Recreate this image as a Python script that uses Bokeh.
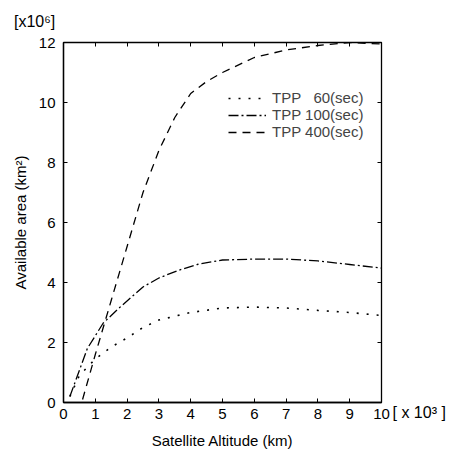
from bokeh.plotting import figure
from bokeh.models import LinearAxis, Range1d, Legend, LegendItem, FixedTicker
from bokeh.embed import file_html
from bokeh.resources import INLINE

# Satellite altitude (x 10^3 km) and available area (x 10^6 km^2)
x_60 = [0.2, 0.5, 1.0, 1.5, 2.0, 2.5, 3.0, 4.0, 5.0, 6.0, 7.0, 8.0, 9.0, 10.0]
y_60 = [0.2, 0.9, 1.45, 1.85, 2.15, 2.5, 2.75, 3.0, 3.15, 3.18, 3.15, 3.07, 3.0, 2.9]

x_100 = [0.2, 0.75, 1.25, 1.8, 2.5, 3.0, 3.6, 4.2, 5.0, 6.0, 7.0, 8.0, 9.0, 10.0]
y_100 = [0.2, 1.8, 2.65, 3.2, 3.85, 4.15, 4.4, 4.6, 4.75, 4.78, 4.78, 4.72, 4.6, 4.48]

x_400 = [0.6, 1.0, 1.5, 2.0, 2.5, 3.0, 3.5, 4.0, 4.5, 5.0, 6.0, 7.0, 8.0, 9.0, 10.0]
y_400 = [0.1, 1.6, 3.4, 5.2, 7.0, 8.4, 9.5, 10.3, 10.7, 11.0, 11.5, 11.75, 11.9, 12.0, 11.95]

labels = ["TPP   60(sec)", "TPP 100(sec)", "TPP 400(sec)"]
x_ticks = [0, 1, 2, 3, 4, 5, 6, 7, 8, 9, 10]
y_ticks = [0, 2, 4, 6, 8, 10, 12]
y_unit = "[x10\u2076]"
x_unit = "[ x 10\u00b3 ]"

FONT = "Liberation Sans"
NB = "\u00a0"

p = figure(width=463, height=459, output_backend="svg", toolbar_location=None,
           x_range=Range1d(0, 10), y_range=Range1d(0, 12),
           min_border_left=63, min_border_right=82, min_border_top=42, min_border_bottom=57)
p.grid.visible = False
p.outline_line_color = "black"
p.outline_line_width = 1.3

r1 = p.line(x_60, y_60, line_color="black", line_width=1.6, line_dash="2 8")
r2 = p.line(x_100, y_100, line_color="black", line_width=1.3, line_dash="10 3 2 3")
r3 = p.line(x_400, y_400, line_color="black", line_width=1.3, line_dash="8 6")

for ax in (p.xaxis[0], p.yaxis[0]):
    ax.major_tick_in = 4
    ax.major_tick_out = 0
    ax.minor_tick_in = 0
    ax.minor_tick_out = 0
    ax.axis_line_width = 1.3
    ax.major_label_text_font = FONT
    ax.major_label_text_font_size = "15px"
    ax.major_label_text_color = "black"
    ax.axis_label_text_font = FONT
    ax.axis_label_text_font_size = "15px"
    ax.axis_label_text_font_style = "normal"
    ax.axis_label_text_color = "black"

p.xaxis[0].ticker = FixedTicker(ticks=x_ticks)
p.yaxis[0].ticker = FixedTicker(ticks=y_ticks)
p.xaxis[0].axis_label = "Satellite Altitude (km)"
p.yaxis[0].axis_label = "Available area (km\u00b2)"
p.xaxis[0].major_label_standoff = 6
p.yaxis[0].major_label_standoff = 8
p.xaxis[0].axis_label_standoff = 10
p.yaxis[0].axis_label_standoff = 7

top_over = {t: "" for t in x_ticks}
top_over[0] = y_unit + NB * 13
right_over = {t: "" for t in y_ticks}
right_over[0] = NB + "\n" + x_unit

top = LinearAxis(ticker=FixedTicker(ticks=x_ticks), major_tick_in=4, major_tick_out=0,
                 minor_tick_in=0, minor_tick_out=0,
                 major_label_overrides=top_over,
                 major_label_standoff=13, major_label_text_font=FONT,
                 major_label_text_font_size="16px", major_label_text_color="black",
                 axis_line_color=None)
right = LinearAxis(ticker=FixedTicker(ticks=y_ticks), major_tick_in=4, major_tick_out=0,
                   minor_tick_in=0, minor_tick_out=0,
                   major_label_overrides=right_over,
                   major_label_standoff=11, major_label_text_font=FONT,
                   major_label_text_font_size="16px", major_label_text_color="black",
                   axis_line_color=None)
p.add_layout(top, "above")
p.add_layout(right, "right")

legend = Legend(items=[LegendItem(label=labels[0], renderers=[r1]),
                       LegendItem(label=labels[1], renderers=[r2]),
                       LegendItem(label=labels[2], renderers=[r3])],
                location=(165, 262), border_line_color=None, background_fill_alpha=0,
                padding=0, margin=0, spacing=0, label_height=16, glyph_height=16,
                glyph_width=38, label_standoff=6,
                label_text_font=FONT, label_text_font_size="15px")
p.add_layout(legend, "center")

open("out.html", "w").write(file_html(p, INLINE))
